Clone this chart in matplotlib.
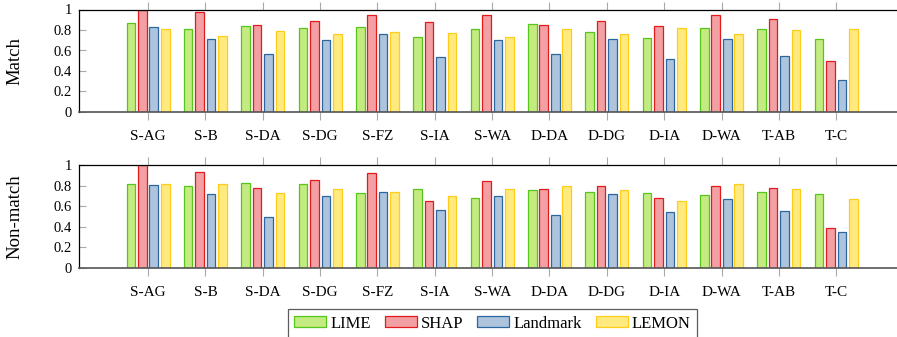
import numpy as np
import matplotlib
matplotlib.use("Agg")
import matplotlib.pyplot as plt

plt.rcParams['font.family'] = ['Liberation Serif', 'DejaVu Serif']

datasets = ['S-AG', 'S-B', 'S-DA', 'S-DG', 'S-FZ', 'S-IA', 'S-WA',
            'D-DA', 'D-DG', 'D-IA', 'D-WA', 'T-AB', 'T-C']
methods = ['LIME', 'SHAP', 'Landmark', 'LEMON']

# match explanations
match_lime = [0.87, 0.81, 0.84, 0.82, 0.83, 0.73, 0.81, 0.86, 0.78, 0.72, 0.82, 0.81, 0.71]
match_shap = [1.00, 0.98, 0.85, 0.89, 0.95, 0.88, 0.95, 0.85, 0.89, 0.84, 0.95, 0.91, 0.50]
match_landmark = [0.83, 0.71, 0.57, 0.70, 0.76, 0.54, 0.70, 0.57, 0.71, 0.52, 0.71, 0.55, 0.31]
match_lemon = [0.81, 0.74, 0.79, 0.76, 0.78, 0.77, 0.73, 0.81, 0.76, 0.82, 0.76, 0.80, 0.81]

# non-match explanations
nonmatch_lime = [0.82, 0.80, 0.83, 0.82, 0.73, 0.77, 0.68, 0.76, 0.74, 0.73, 0.71, 0.74, 0.72]
nonmatch_shap = [1.00, 0.93, 0.78, 0.85, 0.92, 0.65, 0.84, 0.77, 0.80, 0.68, 0.80, 0.78, 0.39]
nonmatch_landmark = [0.81, 0.72, 0.50, 0.70, 0.74, 0.56, 0.70, 0.51, 0.72, 0.54, 0.67, 0.55, 0.35]
nonmatch_lemon = [0.82, 0.82, 0.73, 0.77, 0.74, 0.70, 0.77, 0.80, 0.76, 0.65, 0.82, 0.77, 0.67]

fills = ['#c4ea82', '#f3a0a4', '#adc4dc', '#ffea80']
edges = ['#55c61a', '#e31a1c', '#2a66a0', '#ffcc1a']

W, H = 897, 337
fig = plt.figure(figsize=(W / 100, H / 100), dpi=100)

def px_axes(left, top, bottom):
    return fig.add_axes([left / W, 1 - bottom / H, 1 - left / W, (bottom - top) / H])

ax1 = px_axes(79, 9.5, 112)
ax2 = px_axes(79, 165, 268)

x = np.arange(len(datasets))
offsets = [-0.3, -0.1, 0.1, 0.3]
width = 0.15

def draw(ax, series, ylabel):
    for k, vals in enumerate(series):
        ax.bar(x + offsets[k], vals, width, color=fills[k], edgecolor=edges[k],
               linewidth=0.9, label=methods[k], zorder=2)
    ax.set_xlim(-1.204, 13.06)
    ax.set_ylim(0, 1)
    ax.set_yticks([0, 0.2, 0.4, 0.6, 0.8, 1])
    ax.set_yticklabels(['0', '0.2', '0.4', '0.6', '0.8', '1'])
    ax.set_xticks(x)
    ax.set_xticklabels(datasets)
    ax.tick_params(axis='y', direction='in', length=5, color='#aaaaaa',
                   labelsize=10.5, pad=5)
    ax.tick_params(axis='x', direction='out', length=6, color='#aaaaaa',
                   labelsize=11, pad=7, top=True)
    for s in ['left', 'top']:
        ax.spines[s].set_linewidth(0.9)
        ax.spines[s].set_color('black')
    ax.spines['bottom'].set_linewidth(1.2)
    ax.spines['bottom'].set_color('#555555')
    ax.spines['bottom'].set_zorder(3)
    ax.spines['right'].set_visible(False)
    bbox = ax.get_position()
    fig.text(15 / W, bbox.y0 + bbox.height / 2, ylabel, rotation=90,
             ha='center', va='center', fontsize=13.5)

draw(ax1, [match_lime, match_shap, match_landmark, match_lemon], 'Match')
draw(ax2, [nonmatch_lime, nonmatch_shap, nonmatch_landmark, nonmatch_lemon], 'Non-match')

handles, labels = ax1.get_legend_handles_labels()
leg = fig.legend(handles, labels, loc='upper center', bbox_to_anchor=(492.5 / W, 1 - 309 / H),
                 ncol=4, fontsize=12, frameon=True, fancybox=False,
                 handlelength=1.9, handleheight=0.66, handletextpad=0.25,
                 columnspacing=0.85, borderpad=0.4, borderaxespad=0)
leg.get_frame().set_edgecolor('#333333')
leg.get_frame().set_linewidth(0.9)

fig.savefig('out.png', dpi=100)
